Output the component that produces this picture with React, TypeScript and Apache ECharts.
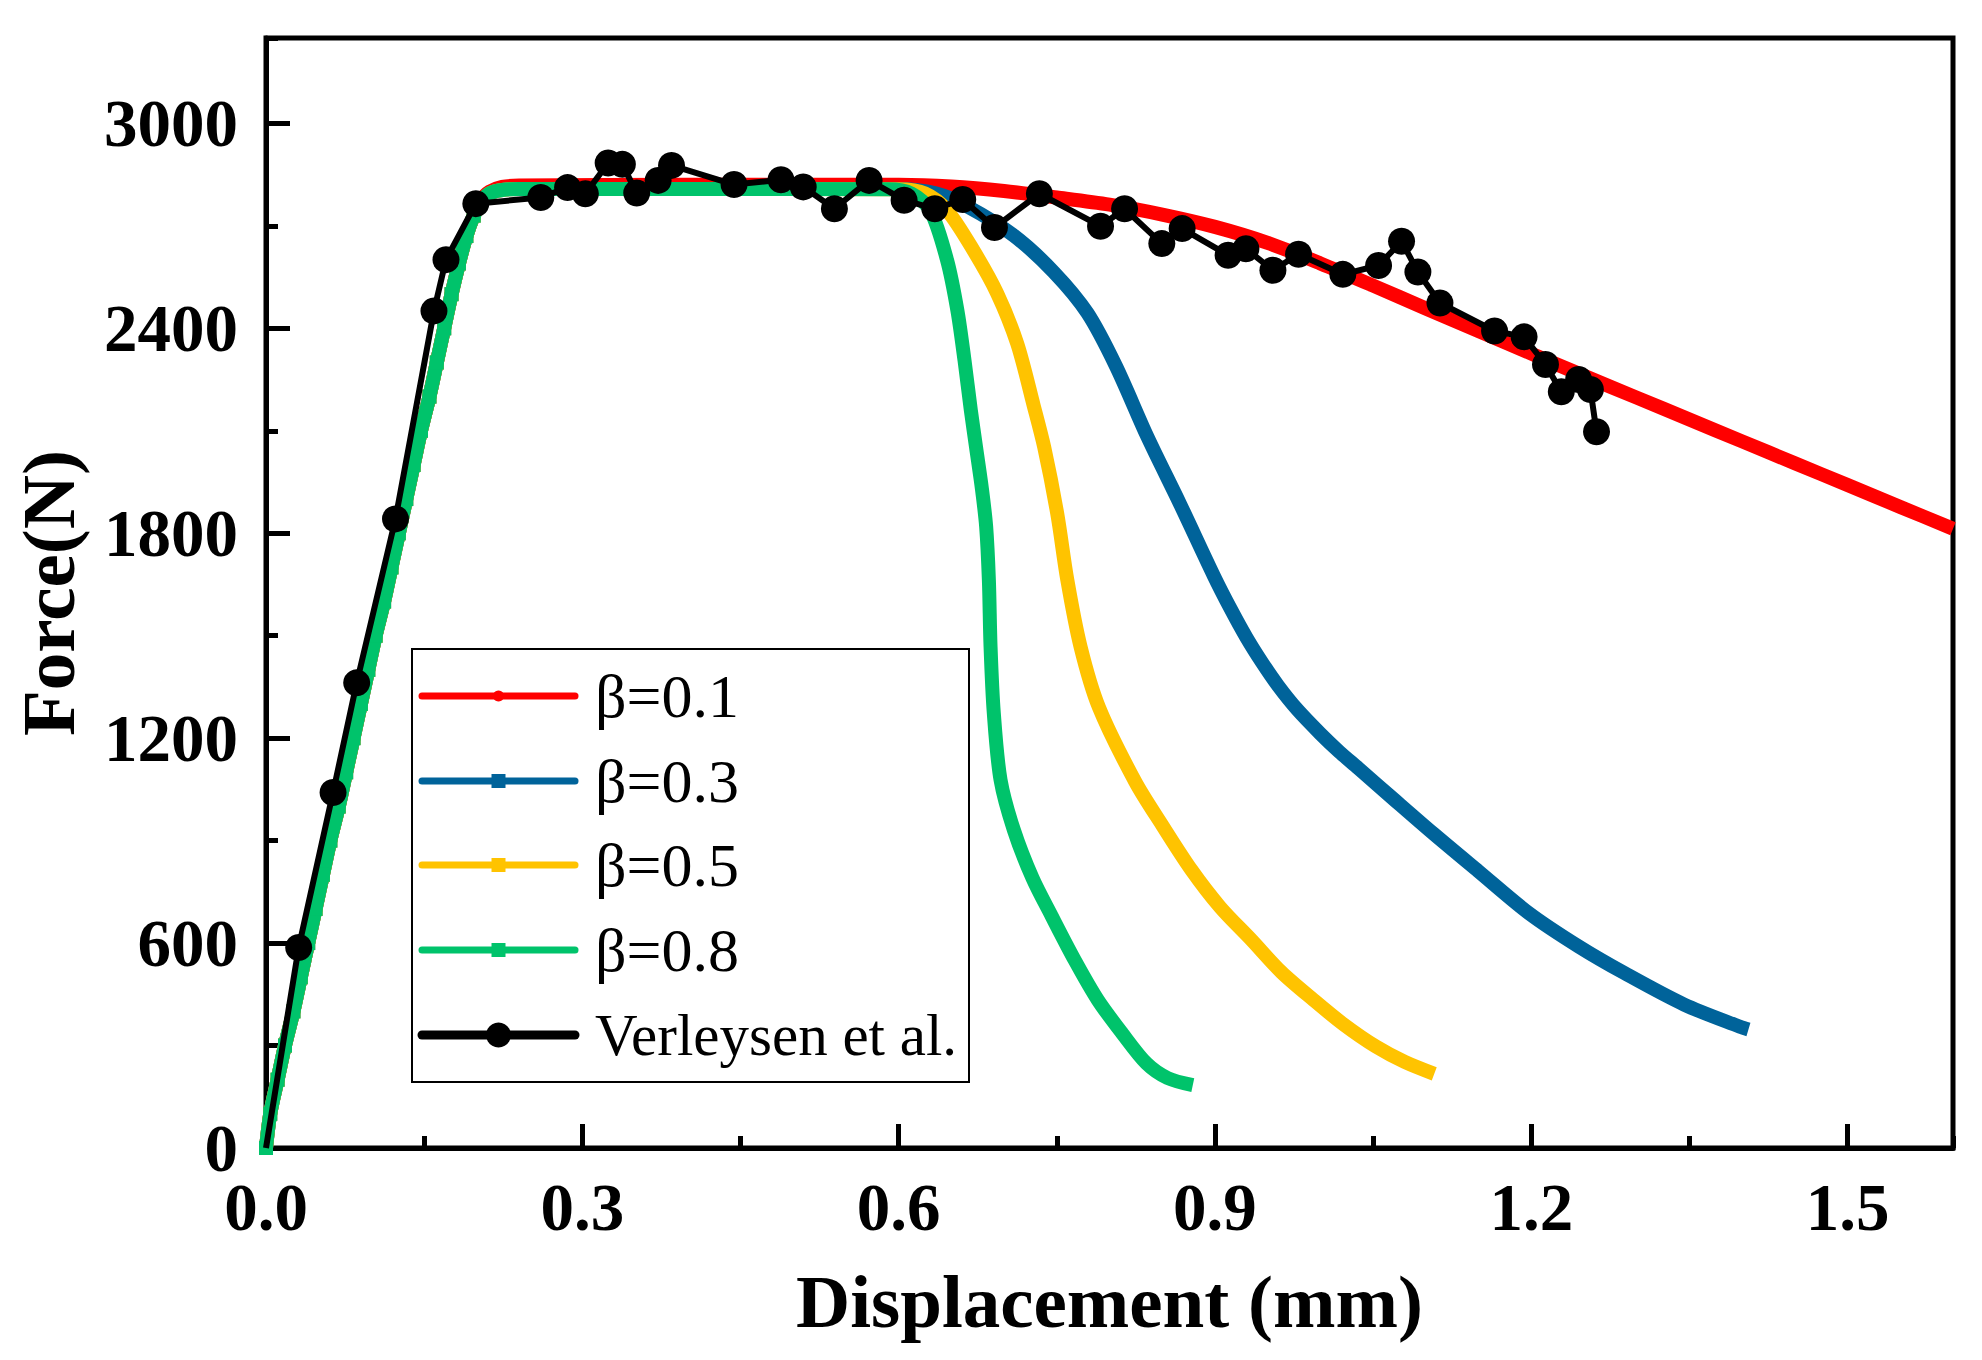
import React, { useEffect, useRef } from "react";
import * as echarts from "echarts";

// Shared elastic branch of the simulations (x: mm, y: N)
const elasticRise: [number, number][] = [
  [0.0, 0], [0.004, 100], [0.011, 200], [0.018, 300], [0.026, 400], [0.033, 500],
  [0.040, 600], [0.047, 700], [0.054, 800], [0.061, 900], [0.069, 1000], [0.076, 1100],
  [0.083, 1200], [0.090, 1300], [0.097, 1400], [0.104, 1500], [0.112, 1600], [0.119, 1700],
  [0.126, 1800], [0.133, 1900], [0.140, 2000], [0.147, 2100], [0.155, 2200], [0.162, 2300],
  [0.169, 2400], [0.176, 2500], [0.183, 2590], [0.190, 2670], [0.197, 2730],
];

const beta01Tail: [number, number][] = [
  [0.204, 2775], [0.212, 2800], [0.224, 2814], [0.24, 2818], [0.4, 2820], [0.6, 2820],
  [0.65, 2815], [0.70, 2802], [0.75, 2783], [0.80, 2762], [0.85, 2733], [0.90, 2697],
  [0.95, 2650], [1.0, 2590], [1.05, 2525], [1.1, 2458], [1.15, 2392], [1.2, 2326],
  [1.25, 2261], [1.3, 2197], [1.35, 2133], [1.4, 2069], [1.45, 2005], [1.5, 1941],
  [1.55, 1877], [1.6, 1813],
];

const beta03Tail: [number, number][] = [
  [0.204, 2770], [0.212, 2795], [0.224, 2805], [0.24, 2808], [0.4, 2808], [0.6, 2808],
  [0.635, 2795], [0.665, 2757], [0.709, 2672], [0.747, 2565], [0.779, 2445], [0.806, 2290],
  [0.836, 2082], [0.867, 1885], [0.899, 1675], [0.915, 1578], [0.93, 1494], [0.945, 1420],
  [0.96, 1353], [0.978, 1284], [1.0, 1213], [1.018, 1160], [1.036, 1112], [1.07, 1020],
  [1.107, 921], [1.15, 810], [1.198, 687], [1.245, 590], [1.289, 511], [1.345, 420],
  [1.398, 355], [1.406, 347],
];

const beta05Tail: [number, number][] = [
  [0.204, 2770], [0.212, 2795], [0.224, 2805], [0.24, 2808], [0.4, 2808], [0.6, 2807],
  [0.625, 2795], [0.646, 2745], [0.671, 2628], [0.6935, 2502], [0.7125, 2355], [0.728, 2175],
  [0.738, 2053], [0.7504, 1858], [0.760, 1663], [0.7726, 1467], [0.790, 1290], [0.8245, 1072],
  [0.85, 945], [0.8775, 815], [0.905, 705], [0.9347, 609], [0.963, 515], [0.9937, 433],
  [1.022, 362], [1.0527, 297], [1.08, 252], [1.108, 217],
];

const beta08Tail: [number, number][] = [
  [0.204, 2770], [0.212, 2795], [0.224, 2805], [0.24, 2808], [0.4, 2808], [0.59, 2807],
  [0.612, 2795], [0.63, 2745], [0.646, 2599], [0.6557, 2453], [0.6625, 2306], [0.6685, 2160],
  [0.6735, 2050], [0.679, 1930], [0.683, 1820], [0.6856, 1663], [0.6872, 1467], [0.6903, 1272],
  [0.6967, 1077], [0.7093, 931], [0.727, 790], [0.745, 680], [0.767, 550], [0.789, 433],
  [0.812, 336], [0.835, 248], [0.855, 205], [0.879, 184],
];

const verleysen: [number, number][] = [
  [0, 0], [0.031, 587], [0.0636, 1041], [0.086, 1362], [0.1228, 1842], [0.1593, 2451],
  [0.1707, 2601], [0.199, 2765], [0.2606, 2783], [0.286, 2812], [0.3029, 2794], [0.3245, 2884],
  [0.338, 2880], [0.3516, 2796], [0.3719, 2833], [0.3846, 2877], [0.4439, 2821], [0.4884, 2835],
  [0.5095, 2814], [0.5391, 2750], [0.572, 2833], [0.6052, 2775], [0.6343, 2750], [0.6608, 2777],
  [0.6909, 2695], [0.7335, 2794], [0.7915, 2699], [0.8143, 2750], [0.8496, 2648], [0.8689, 2692],
  [0.9125, 2614], [0.9294, 2633], [0.955, 2570], [0.9793, 2617], [1.0213, 2558], [1.0552, 2584],
  [1.077, 2655], [1.0925, 2565], [1.1134, 2474], [1.1652, 2392], [1.1932, 2375], [1.2135, 2294],
  [1.2285, 2214], [1.2449, 2250], [1.2561, 2221], [1.2619, 2097],
];

const simNames = ["β=0.1", "β=0.3", "β=0.5", "β=0.8"];
const simColors = ["#FF0000", "#00639A", "#FFC300", "#00C36B"];
const expName = "Verleysen et al.";
const xAxisTitle = "Displacement (mm)";
const yAxisTitle = "Force(N)";

const FONT = "'Liberation Serif', 'Times New Roman', serif";

export default function App() {
  const ref = useRef<HTMLDivElement>(null);

  useEffect(() => {
    const chart = echarts.init(ref.current!, null, { renderer: "svg" });
    const tails = [beta01Tail, beta03Tail, beta05Tail, beta08Tail];
    const nRise = elasticRise.length;

    const simSeries = tails.map((tail, i) => ({
      type: "line",
      name: simNames[i],
      data: [...elasticRise, ...tail],
      symbol: i === 0 ? "circle" : "rect",
      symbolSize: (_v: any, p: any) => (p.dataIndex < nRise ? (i === 0 ? 10 : 14) : 0),
      showSymbol: true,
      showAllSymbol: true,
      smooth: 0.3,
      lineStyle: { color: simColors[i], width: 14, cap: "butt", join: "round" },
      itemStyle: { color: simColors[i] },
      z: 2 + i,
    }));

    const expSeries = {
      type: "line",
      name: expName,
      data: verleysen,
      symbol: "circle",
      symbolSize: (_v: any, p: any) => (p.dataIndex === 0 ? 0 : 27),
      showSymbol: true,
      showAllSymbol: true,
      lineStyle: { color: "#000", width: 6, join: "round" },
      itemStyle: { color: "#000" },
      z: 10,
    };

    // Legend drawn as graphic
    const lgX = 412, lgY = 649, lgW = 557, lgH = 433;
    const rowY = [696, 781, 865, 950, 1035];
    const lineX1 = 422, lineX2 = 575, midX = 498.5, textX = 595;
    const legendItems: any[] = [
      {
        type: "rect",
        shape: { x: lgX, y: lgY, width: lgW, height: lgH },
        style: { fill: "#fff", stroke: "#000", lineWidth: 2 },
        z: 100,
      },
    ];
    const names = [...simNames, expName];
    const colors = [...simColors, "#000"];
    names.forEach((nm, i) => {
      const cy = rowY[i];
      legendItems.push({
        type: "line",
        shape: { x1: lineX1, y1: cy, x2: lineX2, y2: cy },
        style: { stroke: colors[i], lineWidth: i === 4 ? 9 : 7, lineCap: "round" },
        z: 101,
      });
      if (i === 0) {
        legendItems.push({ type: "circle", shape: { cx: midX, cy, r: 5.5 }, style: { fill: colors[i] }, z: 102 });
      } else if (i === 4) {
        legendItems.push({ type: "circle", shape: { cx: midX, cy, r: 12.5 }, style: { fill: colors[i] }, z: 102 });
      } else {
        legendItems.push({
          type: "rect",
          shape: { x: midX - 7, y: cy - 7, width: 14, height: 14 },
          style: { fill: colors[i] },
          z: 102,
        });
      }
      legendItems.push({
        type: "text",
        x: textX,
        y: cy,
        style: {
          text: nm,
          fontFamily: FONT,
          fontSize: i === 4 ? 59 : 62,
          fill: "#000",
          align: "left",
          verticalAlign: "middle",
          textAlign: "left",
          textVerticalAlign: "middle",
        },
        z: 102,
      });
    });

    const labelStyle = {
      fontFamily: FONT,
      fontWeight: "bold",
      fontSize: 67,
      color: "#000",
    };
    const titleStyle = { fontFamily: FONT, fontWeight: "bold", fontSize: 75, color: "#000" };

    chart.setOption({
      animation: false,
      backgroundColor: "#fff",
      grid: {
        left: 266,
        right: 29,
        top: 38,
        bottom: 212,
        show: true,
        borderColor: "#000",
        borderWidth: 5,
        containLabel: false,
        outerBoundsMode: "none",
      },
      xAxis: [
        {
          type: "value",
          min: 0,
          max: 1.6,
          interval: 0.3,
          position: "bottom",
          axisLine: { show: true, onZero: false, lineStyle: { color: "#000", width: 5 } },
          axisTick: { show: true, inside: true, length: 24, lineStyle: { color: "#000", width: 5 } },
          axisLabel: {
            ...labelStyle,
            margin: 25,
            showMaxLabel: false,
            formatter: (v: number) => v.toFixed(1),
          },
          splitLine: { show: false },
          name: xAxisTitle,
          nameLocation: "middle",
          nameGap: 116,
          nameTextStyle: titleStyle,
        },
        {
          type: "value",
          min: 0,
          max: 1.6,
          interval: 0.15,
          position: "bottom",
          axisLine: { show: false, onZero: false },
          axisTick: { show: true, inside: true, length: 12, lineStyle: { color: "#000", width: 5 } },
          axisLabel: { show: false },
          splitLine: { show: false },
        },
      ],
      yAxis: [
        {
          type: "value",
          min: 0,
          max: 3250,
          interval: 600,
          position: "left",
          axisLine: { show: true, onZero: false, lineStyle: { color: "#000", width: 5 } },
          axisTick: { show: true, inside: true, length: 24, lineStyle: { color: "#000", width: 5 } },
          axisLabel: {
            ...labelStyle,
            margin: 28,
            showMaxLabel: false,
            formatter: (v: number) => String(Math.round(v)),
          },
          splitLine: { show: false },
          name: yAxisTitle,
          nameLocation: "middle",
          nameGap: 180,
          nameRotate: 90,
          nameTextStyle: titleStyle,
        },
        {
          type: "value",
          min: 0,
          max: 3250,
          interval: 300,
          position: "left",
          axisLine: { show: false, onZero: false },
          axisTick: { show: true, inside: true, length: 12, lineStyle: { color: "#000", width: 5 } },
          axisLabel: { show: false },
          splitLine: { show: false },
        },
      ],
      series: [...simSeries, expSeries],
      graphic: legendItems,
    });

    return () => chart.dispose();
  }, []);

  return (
    <div
      ref={ref}
      style={{ position: "absolute", left: 0, top: 0, width: 1982, height: 1360, background: "#fff" }}
    />
  );
}
